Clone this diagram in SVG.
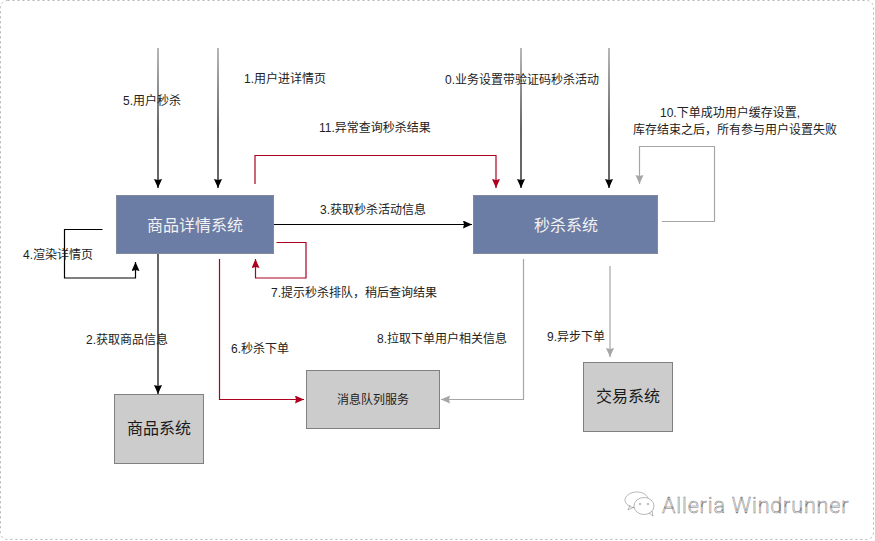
<svg xmlns="http://www.w3.org/2000/svg" width="875" height="541" viewBox="0 0 875 541">
<defs>
<marker id="ab" markerUnits="userSpaceOnUse" markerWidth="11" markerHeight="10" refX="9" refY="4" orient="auto"><path d="M0 0L9 4L0 8L1 4Z" fill="#000"/></marker>
<marker id="ar" markerUnits="userSpaceOnUse" markerWidth="11" markerHeight="10" refX="9" refY="4" orient="auto"><path d="M0 0L9 4L0 8L1 4Z" fill="#ad0020"/></marker>
<marker id="ag" markerUnits="userSpaceOnUse" markerWidth="11" markerHeight="10" refX="9" refY="4" orient="auto"><path d="M0 0L9 4L0 8L1 4Z" fill="#a6a6a6"/></marker>
<linearGradient id="fadeV" gradientUnits="userSpaceOnUse" x1="0" y1="48" x2="0" y2="130"><stop offset="0" stop-color="#888"/><stop offset="1" stop-color="#000"/></linearGradient>
</defs>
<style>
text{font-family:"Liberation Sans","Noto Sans CJK SC",sans-serif;font-size:12px;fill:#222}
.c{fill:none;stroke-width:1.200}
.k{stroke:#000;marker-end:url(#ab)}
.r{stroke:#ad0020;marker-end:url(#ar)}
.g{stroke:#a6a6a6;marker-end:url(#ag)}
.blue{fill:#6b7ca5;stroke:#808a9e;stroke-width:1}
.gray{fill:#cccccc;stroke:#808080;stroke-width:1}
.bt{fill:#f2f2f2;font-size:16px;text-anchor:middle}
.gt{fill:#1a1a1a;font-size:16px;text-anchor:middle}
</style>
<rect x="0.500" y="0.500" width="873" height="539" rx="7" fill="#fff" stroke="#b5b5b5" stroke-width="1" stroke-dasharray="2 3"/>
<g id="connectors">
<path class="c k" d="M158 48V188" style="stroke:url(#fadeV)"/>
<path class="c k" d="M218 48V188" style="stroke:url(#fadeV)"/>
<path class="c k" d="M521 48V188" style="stroke:url(#fadeV)"/>
<path class="c k" d="M609 48V188" style="stroke:url(#fadeV)"/>
<path class="c r" d="M255 184V155.500H496V188"/>
<path class="c k" d="M273 224.500H472"/>
<path class="c k" d="M102.500 229.500H64.500V278H135.500V262"/>
<path class="c r" d="M276.500 242.500H306V278H255.500V259"/>
<path class="c k" d="M158 254V394"/>
<path class="c r" d="M219.500 259V399.500H304"/>
<path class="c g" d="M523.500 259V399.500H441"/>
<path class="c g" d="M610 266V357"/>
<path class="c g" d="M662 221.500H714.500V146.500H639.500V184"/>
</g>
<g id="n1"><rect class="blue" x="116.500" y="195.500" width="157" height="58"/><text class="bt" x="195" y="231">商品详情系统</text></g>
<g id="n2"><rect class="blue" x="473.500" y="195.500" width="184" height="58"/><text class="bt" x="566" y="231">秒杀系统</text></g>
<g id="n3"><rect class="gray" x="114.500" y="394.500" width="89" height="69"/><text class="gt" x="159" y="434">商品系统</text></g>
<g id="n4"><rect class="gray" x="306.500" y="370.500" width="133" height="58"/><text x="373" y="404" text-anchor="middle">消息队列服务</text></g>
<g id="n5"><rect class="gray" x="583.500" y="362.500" width="89" height="69"/><text class="gt" x="628" y="402">交易系统</text></g>
<g id="labels">
<text x="244" y="83">1.用户进详情页</text>
<text x="123" y="105">5.用户秒杀</text>
<text x="445" y="84">0.业务设置带验证码秒杀活动</text>
<text x="319" y="132">11.异常查询秒杀结果</text>
<text x="660" y="117">10.下单成功用户缓存设置,</text>
<text x="633" y="134">库存结束之后，所有参与用户设置失败</text>
<text x="320" y="214">3.获取秒杀活动信息</text>
<text x="23" y="259">4.渲染详情页</text>
<text x="271" y="297">7.提示秒杀排队，稍后查询结果</text>
<text x="86" y="344">2.获取商品信息</text>
<text x="231" y="353">6.秒杀下单</text>
<text x="377" y="343">8.拉取下单用户相关信息</text>
<text x="547" y="341">9.异步下单</text>
</g>
<g id="watermark" fill="#fff" stroke="#8a8a8a" stroke-width="0.600">
<path d="M637 508c-7 0-12-4-12-8s5-8 12-8c5 0 9 2 11 6" fill="none"/>
<path d="M630 505l-2 5 6-3" fill="none"/>
<ellipse cx="644" cy="506" rx="10" ry="8.500" fill="#fff"/>
<path d="M649 513l4 3-1-5" fill="none"/>
<circle cx="640" cy="504" r="0.800"/><circle cx="648" cy="504" r="0.800"/>
<text x="662" y="513" style="font-family:'Roboto','Liberation Sans',sans-serif;font-weight:300;font-size:21.500px;fill:#fff;stroke:#777;stroke-width:.5;letter-spacing:.85px">Alleria Windrunner</text>
</g>
</svg>
